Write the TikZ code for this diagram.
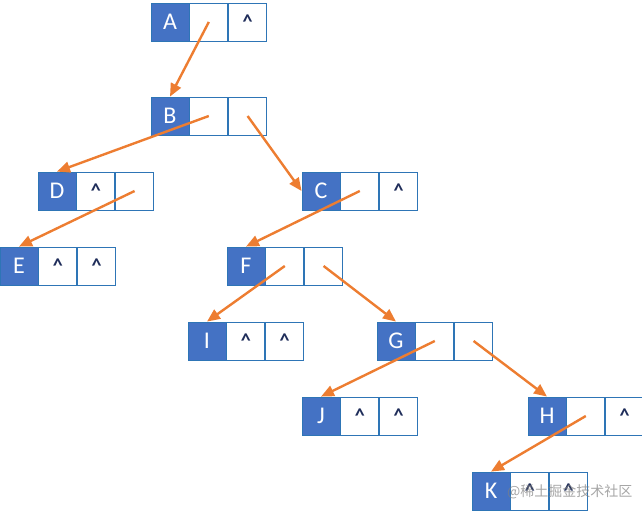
\documentclass[tikz,border=0pt]{standalone}
\usepackage{fontspec}
\setmainfont{Carlito}
\newfontfamily\cjk{Noto Sans CJK SC}
\usetikzlibrary{positioning,arrows.meta}
\definecolor{keyblue}{HTML}{4472C4}
\definecolor{cellline}{HTML}{2E75B6}
\definecolor{ptrorange}{HTML}{ED7D31}
\definecolor{nilnavy}{HTML}{1F2D5A}
\tikzset{
  keycell/.style={draw=cellline,line width=0.8pt,fill=keyblue,text=white,minimum size=38pt,inner sep=0pt,font=\fontsize{24}{26}\selectfont},
  ptrcell/.style={draw=cellline,line width=0.8pt,fill=white,text=nilnavy,minimum size=38pt,inner sep=0pt,font=\bfseries\fontsize{20}{22}\selectfont},
  ptr/.style={draw=ptrorange,line width=2.4pt,-{Triangle[length=13pt,width=11pt]}}
}
\begin{document}
\begin{tikzpicture}[x=1pt,y=-1pt]
        \useasboundingbox (0,0) rectangle (642,517);
        %% Nodes
        \foreach \n/\x/\y/\l/\r in {A/170/22/{}/\textasciicircum, B/170/116/{}/{},
            D/57/191/\textasciicircum/{}, C/321/191/{}/\textasciicircum,
            E/19/266/\textasciicircum/\textasciicircum, F/246/266/{}/{},
            I/207/341/\textasciicircum/\textasciicircum, G/396/341/{}/{},
            J/321/416/\textasciicircum/\textasciicircum, H/547/416/{}/\textasciicircum,
            K/491/491/\textasciicircum/\textasciicircum}{
          \node[keycell] (\n) at (\x,\y) {\n};
          \node[ptrcell, right=0pt of \n] (\n1) {\l};
          \node[ptrcell, right=0pt of \n1] (\n2) {\r};
        }
        %% Pointers
        \draw[ptr] (A1.center) -- (B.north);
        \draw[ptr] (B1.center) -- (D.north);
        \draw[ptr] (B2.center) -- (C.west);
        \draw[ptr] (D2.center) -- (E.north);
        \draw[ptr] (C1.center) -- (F.north);
        \draw[ptr] (F1.center) -- (I.north);
        \draw[ptr] (F2.center) -- (G.north);
        \draw[ptr] (G1.center) -- (J.north);
        \draw[ptr] (G2.center) -- (H.north);
        \draw[ptr] (H1.center) -- (K.north);
        %% Watermark
        \node[anchor=west, inner sep=0pt, text=gray, opacity=0.7, font=\cjk\fontsize{14}{16}\selectfont] (mark) at (507,492) {@稀土掘金技术社区};
    \end{tikzpicture}
\end{document}
